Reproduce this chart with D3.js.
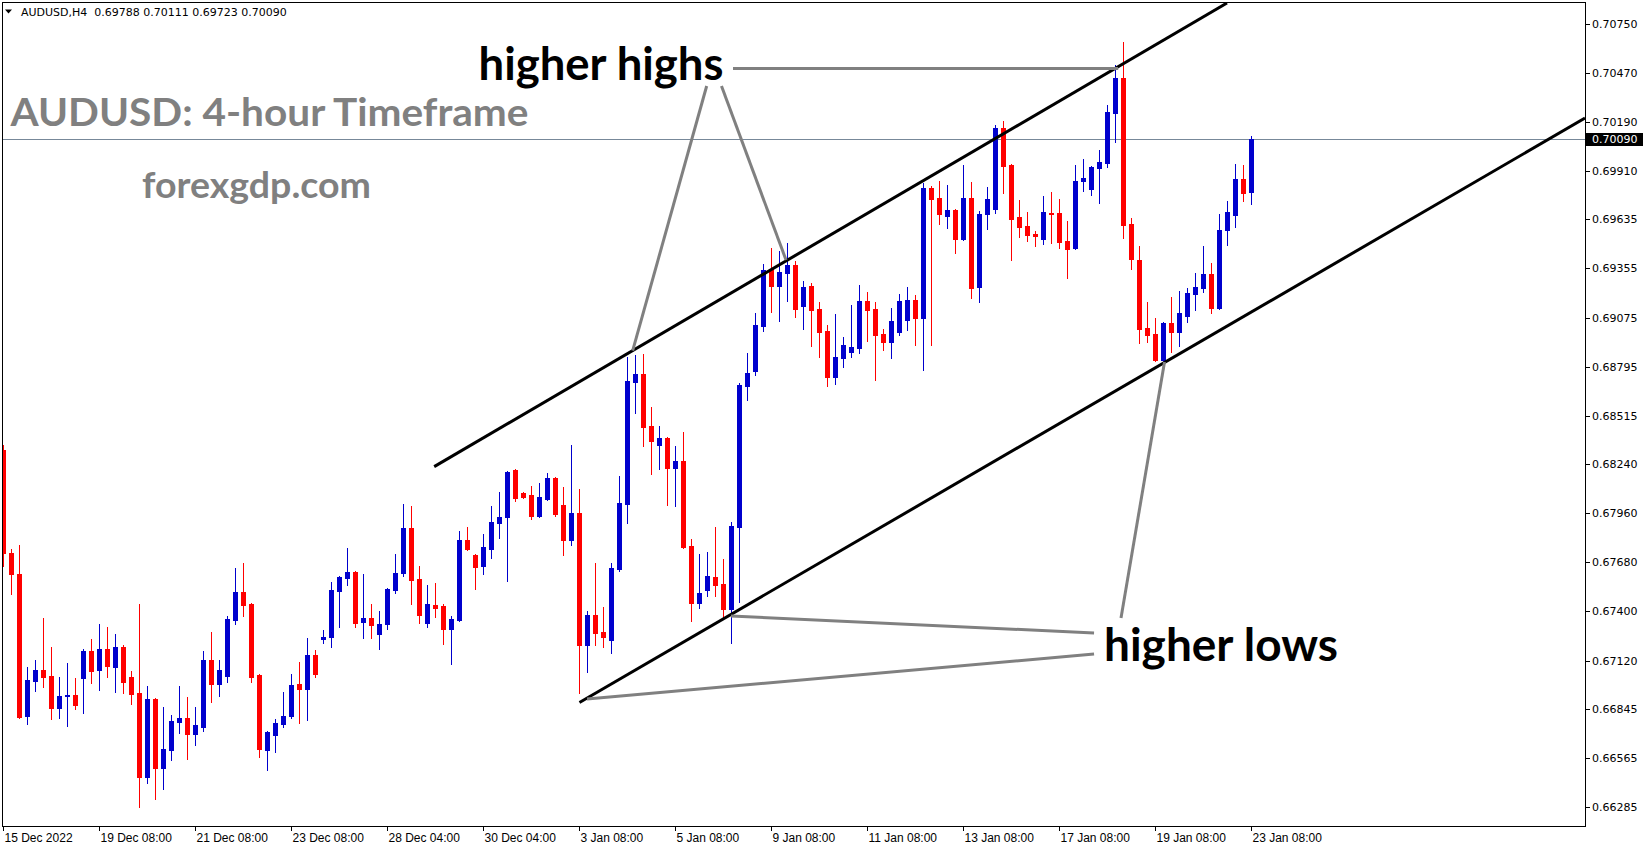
<!DOCTYPE html>
<html><head><meta charset="utf-8">
<script src="https://cdn.jsdelivr.net/npm/d3@7"></script>
<style>html,body{margin:0;padding:0;background:#fff;overflow:hidden}svg{display:block}</style>
</head><body>
<script>
// ---- DATA (AUDUSD H4, 15 Dec 2022 08:00 .. 23 Jan 2023 08:00) ----
const opens=[
0.68319,0.67732,0.67612,0.66803,0.67002,0.67065,0.67031,0.66849,0.66917,0.66923,
0.67020,0.67174,0.67065,0.67185,0.67082,0.67196,0.67025,0.66934,0.66455,0.66900,
0.66506,0.66609,0.66769,0.66791,0.66700,0.66740,0.67122,0.66985,0.67031,0.67350,
0.67510,0.67441,0.67037,0.66609,0.66695,0.66757,0.66803,0.66985,0.66957,0.67151,
0.67242,0.67253,0.67516,0.67590,0.67624,0.67339,0.67362,0.67270,0.67327,0.67521,
0.67618,0.67875,0.67584,0.67333,0.67436,0.67430,0.67299,0.67350,0.67806,0.67721,
0.67658,0.67755,0.67903,0.67937,0.68205,0.68074,0.68063,0.67943,0.68040,0.68160,
0.68006,0.67806,0.67960,0.67208,0.67379,0.67282,0.67236,0.67641,0.68012,0.68707,
0.68753,0.68456,0.68348,0.68388,0.68217,0.68257,0.67772,0.67447,0.67521,0.67595,
0.67555,0.67413,0.67880,0.68684,0.68770,0.69026,0.69351,0.69254,0.69329,0.69374,
0.69140,0.69254,0.69123,0.68998,0.68736,0.68844,0.68878,0.68901,0.69169,0.69123,
0.68981,0.68935,0.68992,0.69061,0.69175,0.69072,0.69813,0.69756,0.69654,0.69688,
0.69522,0.69756,0.69249,0.69665,0.69693,0.70155,0.69944,0.69648,0.69597,0.69551,
0.69522,0.69671,0.69671,0.69511,0.69471,0.69853,0.69808,0.69927,0.69956,0.70241,
0.70440,0.69608,0.69403,0.69015,0.68981,0.68833,0.69044,0.68992,0.69083,0.69209,
0.69243,0.69323,0.69129,0.69574,0.69659,0.69865,0.69788];
const highs=[
0.68348,0.67755,0.67778,0.67082,0.67122,0.67362,0.67196,0.67025,0.67105,0.67020,
0.67185,0.67242,0.67327,0.67310,0.67270,0.67208,0.67059,0.67441,0.66974,0.66906,
0.66854,0.66809,0.66974,0.66911,0.66854,0.67174,0.67282,0.67122,0.67373,0.67647,
0.67675,0.67447,0.67042,0.66717,0.66786,0.66940,0.67042,0.67111,0.67248,0.67179,
0.67293,0.67567,0.67601,0.67761,0.67630,0.67612,0.67441,0.67402,0.67533,0.67727,
0.68012,0.68000,0.67658,0.67550,0.67561,0.67441,0.67373,0.67858,0.67880,0.67727,
0.67841,0.68000,0.68080,0.68200,0.68211,0.68080,0.68114,0.68131,0.68188,0.68165,
0.68108,0.68348,0.68097,0.67402,0.67675,0.67424,0.67675,0.68171,0.68850,0.68861,
0.68867,0.68565,0.68456,0.68394,0.68342,0.68422,0.67812,0.67727,0.67738,0.67880,
0.67698,0.67909,0.68701,0.68872,0.69101,0.69380,0.69471,0.69454,0.69500,0.69397,
0.69283,0.69272,0.69163,0.69032,0.69095,0.68964,0.69146,0.69260,0.69220,0.69163,
0.69009,0.69129,0.69209,0.69249,0.69203,0.69842,0.69825,0.69853,0.69830,0.69693,
0.69944,0.69847,0.69682,0.69819,0.70172,0.70195,0.69950,0.69745,0.69676,0.69568,
0.69768,0.69790,0.69751,0.69625,0.69944,0.69979,0.69939,0.70030,0.70286,0.70514,
0.70646,0.69642,0.69483,0.69163,0.69072,0.69049,0.69192,0.69226,0.69243,0.69329,
0.69483,0.69386,0.69665,0.69739,0.69950,0.69944,0.70111];
const lows=[
0.67658,0.67498,0.66791,0.66757,0.66945,0.66968,0.66786,0.66791,0.66746,0.66843,
0.66820,0.66991,0.66951,0.67025,0.66940,0.66934,0.66871,0.66284,0.66421,0.66330,
0.66387,0.66552,0.66706,0.66558,0.66637,0.66717,0.66883,0.66917,0.66997,0.67327,
0.67373,0.66997,0.66569,0.66495,0.66598,0.66740,0.66791,0.66763,0.66780,0.67025,
0.67219,0.67196,0.67310,0.67550,0.67310,0.67248,0.67248,0.67185,0.67299,0.67504,
0.67601,0.67441,0.67333,0.67310,0.67367,0.67213,0.67099,0.67345,0.67749,0.67527,
0.67612,0.67704,0.67818,0.67573,0.68029,0.68046,0.67926,0.67937,0.68034,0.67943,
0.67721,0.67778,0.66934,0.67054,0.67208,0.67196,0.67162,0.67630,0.67903,0.68530,
0.68342,0.68183,0.68211,0.68006,0.68000,0.67761,0.67345,0.67419,0.67487,0.67487,
0.67367,0.67219,0.67453,0.68605,0.68747,0.68998,0.69106,0.69055,0.69169,0.69078,
0.69009,0.68912,0.68850,0.68684,0.68696,0.68793,0.68850,0.68872,0.68941,0.68719,
0.68890,0.68844,0.68975,0.69004,0.68918,0.68776,0.68918,0.69608,0.69585,0.69443,
0.69517,0.69186,0.69163,0.69579,0.69671,0.69785,0.69403,0.69534,0.69511,0.69483,
0.69494,0.69500,0.69471,0.69300,0.69465,0.69796,0.69773,0.69728,0.69933,0.70075,
0.69528,0.69351,0.68930,0.68935,0.68827,0.68815,0.68878,0.68912,0.69049,0.69118,
0.69220,0.69101,0.69123,0.69488,0.69591,0.69739,0.69723];
const closes=[
0.67732,0.67612,0.66797,0.67008,0.67065,0.67025,0.66849,0.66917,0.66923,0.66866,
0.67174,0.67059,0.67185,0.67088,0.67196,0.66997,0.66928,0.66455,0.66900,0.66506,
0.66615,0.66774,0.66791,0.66700,0.66752,0.67122,0.66985,0.67065,0.67356,0.67510,
0.67436,0.67025,0.66615,0.66712,0.66763,0.66803,0.66980,0.66957,0.67151,0.67042,
0.67253,0.67521,0.67595,0.67624,0.67333,0.67362,0.67322,0.67327,0.67527,0.67618,
0.67875,0.67578,0.67379,0.67441,0.67419,0.67299,0.67356,0.67806,0.67755,0.67652,
0.67766,0.67909,0.67937,0.68194,0.68046,0.68052,0.67943,0.68052,0.68160,0.67954,
0.67806,0.67960,0.67208,0.67379,0.67276,0.67253,0.67647,0.68017,0.68713,0.68753,
0.68451,0.68371,0.68388,0.68217,0.68257,0.67766,0.67447,0.67504,0.67601,0.67550,
0.67413,0.67886,0.68690,0.68758,0.69032,0.69346,0.69254,0.69334,0.69374,0.69123,
0.69249,0.69118,0.68992,0.68736,0.68850,0.68918,0.68907,0.69169,0.69118,0.68975,
0.68935,0.69055,0.69169,0.69175,0.69072,0.69813,0.69751,0.69665,0.69688,0.69522,
0.69756,0.69243,0.69665,0.69751,0.70155,0.69939,0.69636,0.69591,0.69545,0.69540,
0.69676,0.69665,0.69505,0.69465,0.69853,0.69870,0.69933,0.69961,0.70246,0.70440,
0.69602,0.69408,0.69009,0.68975,0.68833,0.69044,0.68992,0.69101,0.69215,0.69249,
0.69323,0.69129,0.69574,0.69676,0.69865,0.69785,0.70090];

const yTickValues=[0.70750,0.70470,0.70190,0.69910,0.69635,0.69355,0.69075,0.68795,0.68515,
  0.68240,0.67960,0.67680,0.67400,0.67120,0.66845,0.66565,0.66285];
const xTickBars=[0,12,24,36,48,60,72,84,96,108,120,132,144,156];
const xTickLabels=["15 Dec 2022","19 Dec 08:00","21 Dec 08:00","23 Dec 08:00","28 Dec 04:00",
  "30 Dec 04:00","3 Jan 08:00","5 Jan 08:00","9 Jan 08:00","11 Jan 08:00","13 Jan 08:00",
  "17 Jan 08:00","19 Jan 08:00","23 Jan 08:00"];
const headerText="AUDUSD,H4  0.69788 0.70111 0.69723 0.70090";
const lastPrice=0.70090;

// annotation lines as [bar index, price]
const channelLines=[
  [[53.9,0.68225],[153.0,0.70868]],
  [[72.06,0.66881],[197.75,0.70212]]
];
const grayLines=[
  [[91.25,0.70495],[139.4,0.70495]],
  [[87.96,0.70395],[78.71,0.68886]],
  [[89.81,0.70395],[97.88,0.69403]],
  [[139.75,0.67362],[145.19,0.68822]],
  [[136.38,0.67277],[91.0,0.67374]],
  [[136.38,0.67157],[73.0,0.66901]]
];

// ---- CHART ----
const W=1649,H=850;
const PL=2,PR=1585,PT=2,PB=826;
const x=d3.scaleLinear().domain([0,156]).range([3,1251]);
const y=d3.scaleLinear().domain([0.70750,0.66285]).range([23.7,807]);
const BLUE="#0000cd",RED="#ff0000",GRAY="#808080";

const svg=d3.select("body").append("svg").attr("width",W).attr("height",H);
svg.append("rect").attr("width",W).attr("height",H).attr("fill","#fff");

svg.append("defs").append("clipPath").attr("id","plot")
  .append("rect").attr("x",PL+1).attr("y",PT+1).attr("width",PR-PL-1).attr("height",PB-PT-1);

const plot=svg.append("g").attr("clip-path","url(#plot)");

// price line
const py=Math.round(y(lastPrice))+0.5;
plot.append("line").attr("x1",PL).attr("x2",PR).attr("y1",py).attr("y2",py)
  .attr("stroke","#778899").attr("stroke-width",1);

const data=opens.map((o,i)=>({i,o,h:highs[i],l:lows[i],c:closes[i]}));
const cg=plot.append("g").selectAll("g").data(data).join("g")
  .attr("fill",d=>d.c>=d.o?BLUE:RED).attr("stroke",d=>d.c>=d.o?BLUE:RED);
cg.append("line")
  .attr("x1",d=>Math.round(x(d.i))+0.5).attr("x2",d=>Math.round(x(d.i))+0.5)
  .attr("y1",d=>Math.round(y(d.h))).attr("y2",d=>Math.round(y(d.l))+1)
  .attr("stroke-width",1);
cg.append("rect")
  .attr("stroke","none")
  .attr("x",d=>Math.round(x(d.i))-2).attr("width",5)
  .attr("y",d=>Math.round(y(Math.max(d.o,d.c))))
  .attr("height",d=>Math.max(1,Math.round(y(Math.min(d.o,d.c)))-Math.round(y(Math.max(d.o,d.c)))+1));

const line=d3.line().x(p=>x(p[0])).y(p=>y(p[1]));
plot.selectAll(".ch").data(channelLines).join("path").attr("class","ch")
  .attr("d",line).attr("stroke","#000").attr("stroke-width",3).attr("fill","none");
plot.selectAll(".gl").data(grayLines).join("path").attr("class","gl")
  .attr("d",line).attr("stroke",GRAY).attr("stroke-width",3).attr("fill","none");

// frame
svg.append("rect").attr("x",PL+0.5).attr("y",PT+0.5).attr("width",PR-PL).attr("height",PB-PT)
  .attr("fill","none").attr("stroke","#000").attr("stroke-width",1);

// y axis
const ya=svg.append("g");
yTickValues.forEach(v=>{
  const ty=Math.round(y(v))+0.5;
  ya.append("line").attr("x1",PR).attr("x2",PR+5).attr("y1",ty).attr("y2",ty).attr("stroke","#000");
  ya.append("text").attr("x",PR+7).attr("y",ty).attr("dy","0.36em")
    .attr("font-family","DejaVu Sans, sans-serif").attr("font-size",11).attr("fill","#000").text(v.toFixed(5));
});
// last price label
ya.append("rect").attr("x",PR+1).attr("y",py-6.5).attr("width",57).attr("height",13).attr("fill","#000");
ya.append("text").attr("x",PR+7).attr("y",py).attr("dy","0.36em")
  .attr("font-family","DejaVu Sans, sans-serif").attr("font-size",11).attr("fill","#fff").text(lastPrice.toFixed(5));

// x axis
const xa=svg.append("g");
xTickBars.forEach((b,k)=>{
  const tx=Math.round(x(b))+0.5;
  xa.append("line").attr("x1",tx).attr("x2",tx).attr("y1",PB).attr("y2",PB+5).attr("stroke","#000");
  xa.append("text").attr("x",tx+1).attr("y",PB+16)
    .attr("font-family","Liberation Sans, Arial, sans-serif").attr("font-size",12).attr("fill","#000")
    .text(xTickLabels[k]);
});

// header
svg.append("path").attr("d","M5,9.5 L12,9.5 L8.5,13.5 Z").attr("fill","#000");
svg.append("text").attr("x",21).attr("y",16).attr("font-family","DejaVu Sans, sans-serif")
  .attr("font-size",11).attr("fill","#000").attr("xml:space","preserve").style("white-space","pre").text(headerText);

// annotation texts
function label(t,x0,yb,size,len,color){
  svg.append("text").attr("x",x0).attr("y",yb).attr("font-family","Lato, 'Open Sans', sans-serif")
    .attr("font-weight",700).attr("font-size",size).attr("fill",color)
    .attr("textLength",len).attr("lengthAdjust","spacingAndGlyphs").text(t);
}
label("higher highs",478.5,80,45,245,"#000");
label("AUDUSD: 4-hour Timeframe",10.5,126,39,518,GRAY);
label("forexgdp.com",142,198,37,229,GRAY);
label("higher lows",1104,661,45,234,"#000");
</script>
</body></html>
